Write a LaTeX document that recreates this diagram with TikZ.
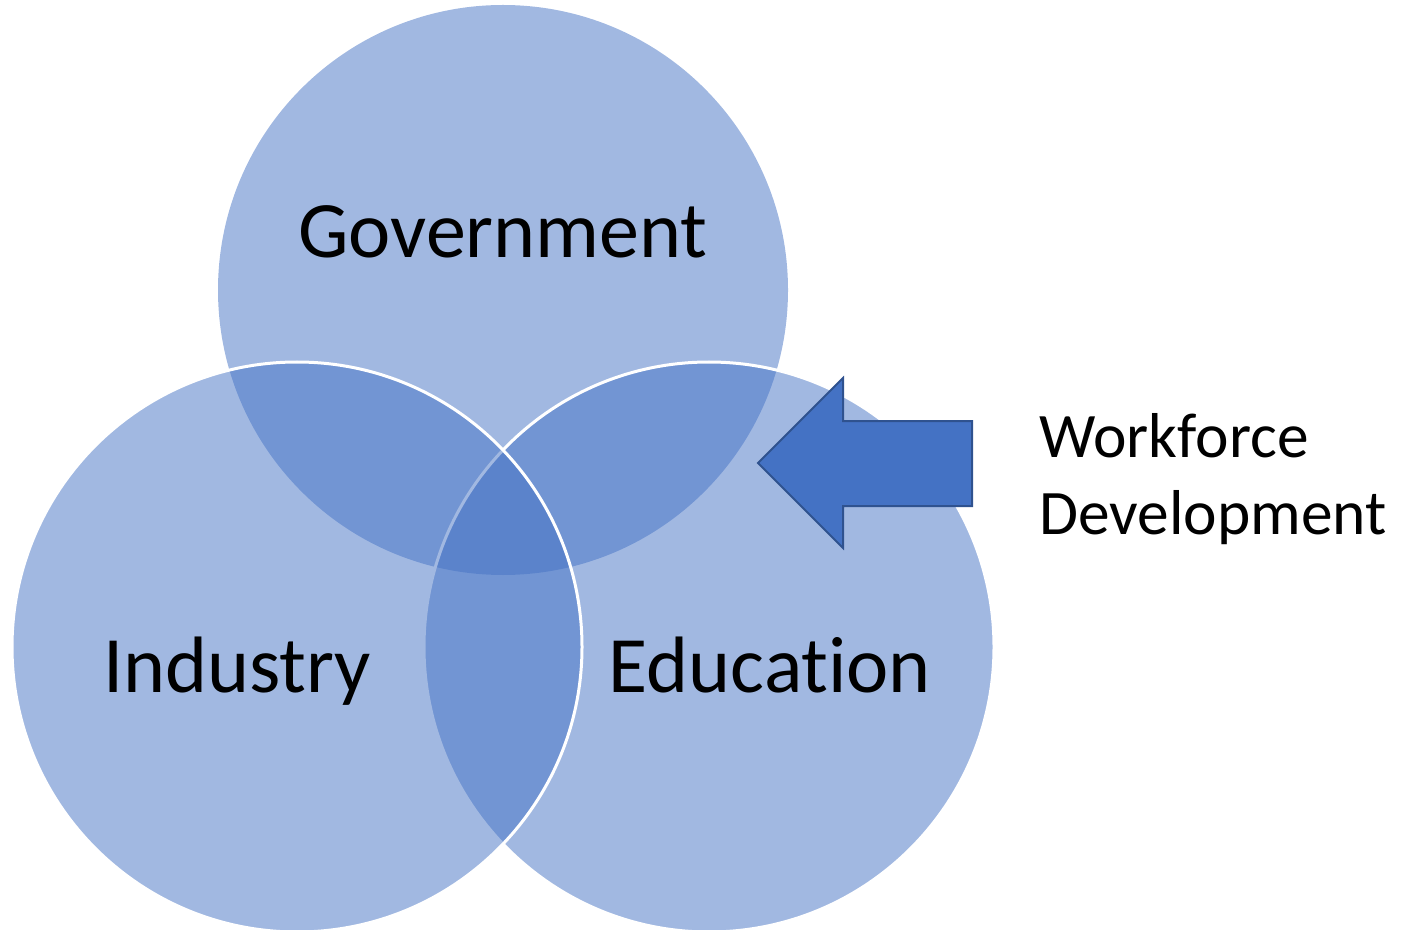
\documentclass[tikz,border=0pt]{standalone}
\usepackage{fontspec}
\setmainfont{Carlito}[Ligatures = NoCommon]
\usepackage{tikz}
\usetikzlibrary{positioning}
\definecolor{mblue}{HTML}{4472C4}
\definecolor{mdark}{HTML}{2F528F}
\tikzset{disc/.style = {fill = mblue, fill opacity = 0.5},
  ring/.style = {disc, draw = white, line width = 1.5pt},
  big/.style = {font = \fontsize{40}{48}\selectfont, anchor = base},
  side/.style = {font = \fontsize{31.7}{38.5}\selectfont, align = left, anchor = north west, inner sep = 0}}

\begin{document}
\begin{tikzpicture}[x = 0.5pt, y = -0.5pt]
    \useasboundingbox (0, 0) rectangle (1407, 930);

    \fill [disc] (503, 290) circle [radius = 285];
    \draw [ring] (709, 647) circle [radius = 285];
    \draw [ring] (297, 647) circle [radius = 285];

    \node [big] (gov) at (503, 258) {Government};
    \node [big] (ind) at (237, 692) {Industry};
    \node [big] (edu) at (770, 692) {Education};

    \draw [fill = mblue, draw = mdark, line width = 1pt, line join = miter]
      (758, 463) -- (843, 378) -- (843, 421) -- (972, 421)
      -- (972, 506) -- (843, 506) -- (843, 548) -- cycle;

    \node [side] (wfd) at (1039, 413) {Workforce\\Development};
  \end{tikzpicture}
\end{document}
